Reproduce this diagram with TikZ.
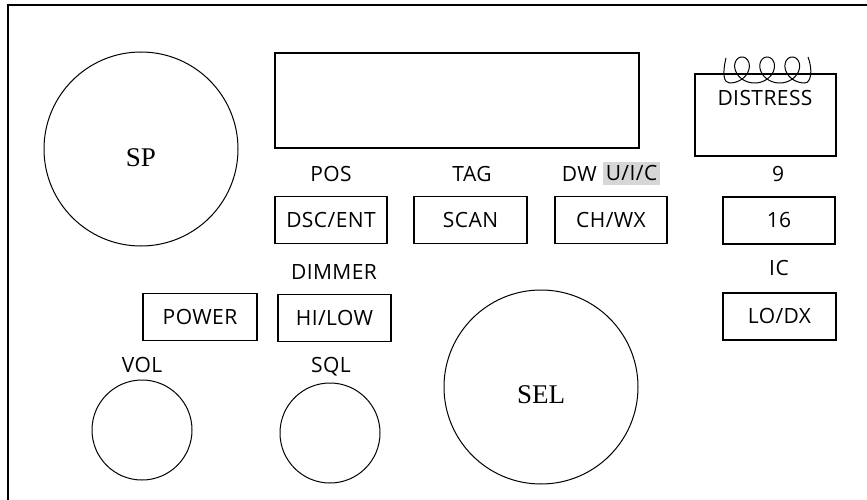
\documentclass[tikz,border=0pt]{standalone}
\usepackage{fontspec}
\setmainfont{Open Sans}[LetterSpace=2]
\newfontfamily\serffont{Liberation Serif}
\definecolor{hl}{HTML}{D6D6D6}
\begin{document}
\begin{tikzpicture}[x=1pt,y=-1pt,
  lbl/.style={font=\fontsize{21}{24}\selectfont, text height=14pt, text depth=0pt, inner sep=0pt},
  btn/.style={draw, line width=1.3pt, lbl, minimum height=47pt},
  knob/.style={draw, circle, line width=1pt, inner sep=0pt},
  big/.style={font=\serffont\fontsize{27}{30}\selectfont, inner sep=0pt}]
\useasboundingbox (0,0) rectangle (867,500);
% frame
\draw[line width=1.3pt] (8,500) -- (8,5) -- (867,5);
% speaker
\node[knob, minimum size=194pt] (sp) at (141,149) {};
\node[big] (sptxt) at (141,158) {SP};
% display
\node[draw, line width=1.3pt, minimum width=364pt, minimum height=95pt, inner sep=0pt] (disp) at (457,100.5) {};
% labels row 1
\node[lbl] (pos) at (331,174) {POS};
\node[lbl] (tag) at (472,174) {TAG};
\node[lbl, fill=hl, minimum width=57pt, minimum height=23pt] (uic) at (631.5,173.5) {U/I/C};
\node[lbl, anchor=east] (dw) at (597,174) {DW};
% buttons row 1
\node[btn, minimum width=112pt] (dsc) at (331,220) {DSC/ENT};
\node[btn, minimum width=113pt] (scan) at (470.5,220) {SCAN};
\node[btn, minimum width=112pt] (ch) at (611,220) {CH/WX};
% distress
\node[draw, line width=1.3pt, minimum width=141pt, minimum height=82pt, inner sep=0pt] (dist) at (765.5,115) {};
\node[lbl] (disttxt) at (765,99) {DISTRESS};
\draw[line width=1pt] (726,58) .. controls (722,74) and (724,83) .. (729.43,83)
  -- plot[domain=-pi:5*pi, samples=240, smooth] ({742+4*\x-13*sin(\x r)},{70-13*cos(\x r)})
  .. controls (811,83) and (813,70) .. (808,57);
% right column
\node[lbl] (nine) at (778,174) {9};
\node[btn, minimum width=112pt] (b16) at (779,220.5) {16};
\node[lbl] (ic) at (779,268) {IC};
\node[btn, minimum width=113pt] (lodx) at (779.5,316.5) {LO/DX};
% second row
\node[lbl] (dimmer) at (334,272) {DIMMER};
\node[btn, minimum width=114pt] (power) at (200,317) {POWER};
\node[btn, minimum width=113pt] (hilow) at (334.5,318) {HI/LOW};
\node[lbl] (vol) at (142,365) {VOL};
\node[lbl] (sql) at (331,365) {SQL};
% knobs
\node[knob, minimum size=100pt] (volk) at (142,430) {};
\node[knob, minimum size=100pt] (sqlk) at (330,433) {};
\node[knob, minimum size=194pt] (sel) at (541,387) {};
\node[big] (seltxt) at (541,395) {SEL};
\end{tikzpicture}
\end{document}
